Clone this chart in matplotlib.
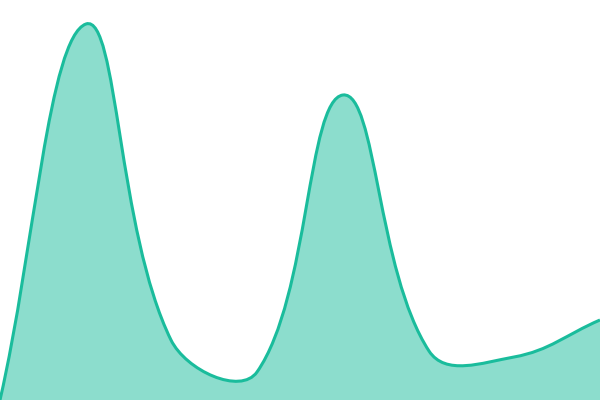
import numpy as np
import matplotlib
matplotlib.use("Agg")
import matplotlib.pyplot as plt
from matplotlib.path import Path
from matplotlib.patches import PathPatch

x_vals = [0, 86, 171, 257, 343, 429, 514, 600]
y_vals = [0, 376, 60, 28, 305, 49, 43, 80]

LINE = "#1abc9c"
TENSION = 0.4

def spline_path(xs, ys, t=TENSION, xmin=0, xmax=600, ymin=0, ymax=400):
    pts = np.column_stack([xs, ys]).astype(float)
    n = len(pts)
    prev_c, next_c = [], []
    for i in range(n):
        p1 = pts[i]
        p0 = pts[i - 1] if i > 0 else p1
        p2 = pts[i + 1] if i < n - 1 else p1
        d01 = np.hypot(*(p1 - p0))
        d12 = np.hypot(*(p2 - p1))
        tot = d01 + d12
        s01 = d01 / tot if tot else 0
        s12 = d12 / tot if tot else 0
        fa, fb = t * s01, t * s12
        pc = p1 - fa * (p2 - p0)
        nc = p1 + fb * (p2 - p0)
        pc = np.array([np.clip(pc[0], xmin, xmax), np.clip(pc[1], ymin, ymax)])
        nc = np.array([np.clip(nc[0], xmin, xmax), np.clip(nc[1], ymin, ymax)])
        prev_c.append(pc)
        next_c.append(nc)
    verts = [pts[0]]
    codes = [Path.MOVETO]
    for i in range(n - 1):
        verts += [next_c[i], prev_c[i + 1], pts[i + 1]]
        codes += [Path.CURVE4] * 3
    return verts, codes

fig = plt.figure(figsize=(6, 4), dpi=100)
ax = fig.add_axes([0, 0, 1, 1])
ax.set_xlim(0, 600)
ax.set_ylim(0, 400)
ax.axis("off")

verts, codes = spline_path(x_vals, y_vals)
fill_verts = verts + [(x_vals[-1], 0), (x_vals[0], 0), verts[0]]
fill_codes = codes + [Path.LINETO, Path.LINETO, Path.CLOSEPOLY]
ax.add_patch(PathPatch(Path(fill_verts, fill_codes), facecolor=LINE, alpha=0.5, edgecolor="none"))
ax.add_patch(PathPatch(Path(verts, codes), facecolor="none", edgecolor=LINE, linewidth=2.2))

fig.savefig("out.png", dpi=100)
